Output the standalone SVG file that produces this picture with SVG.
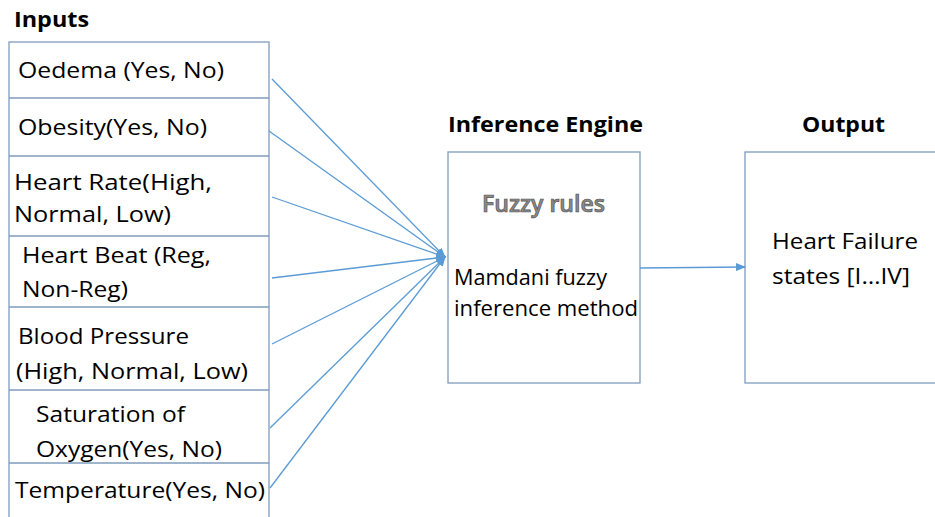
<svg xmlns="http://www.w3.org/2000/svg" width="935" height="517" viewBox="0 0 935 517">
<defs>
<marker id="ah" markerUnits="userSpaceOnUse" markerWidth="10" markerHeight="8" refX="9" refY="4" orient="auto">
<path d="M0,0 L10,4 L0,8 Z" fill="#5b9bd5"/>
</marker>
<style>
.box{fill:#ffffff;stroke:#7f9cbd;stroke-width:1.3}
.div{stroke:#7f9cbd;stroke-width:1.3}
.t{font-family:"Open Sans","Liberation Sans",sans-serif;font-size:22px;fill:#000000}
.h{font-family:"Open Sans","Liberation Sans",sans-serif;font-size:22px;font-weight:bold;fill:#000000}
.fz{font-family:"Open Sans","Liberation Sans",sans-serif;font-size:24px;font-weight:600;fill:#8a8a8a;stroke:#505050;stroke-width:0.7}
.c{stroke:#5b9bd5;stroke-width:1.3;fill:none;marker-end:url(#ah)}
</style>
</defs>
<rect width="935" height="517" fill="#ffffff"/>

<g id="inputs">
<text class="h" x="14" y="27" textLength="75" lengthAdjust="spacingAndGlyphs">Inputs</text>
<rect class="box" x="9" y="42" width="260" height="490"/>
<line class="div" x1="9" y1="98" x2="269" y2="98"/>
<line class="div" x1="9" y1="156" x2="269" y2="156"/>
<line class="div" x1="9" y1="236" x2="269" y2="236"/>
<line class="div" x1="9" y1="307" x2="269" y2="307"/>
<line class="div" x1="9" y1="390" x2="269" y2="390"/>
<line class="div" x1="9" y1="463" x2="269" y2="463"/>
</g>
<g id="oedema"><text class="t" x="18" y="78" textLength="206" lengthAdjust="spacingAndGlyphs">Oedema (Yes, No)</text></g>
<g id="obesity"><text class="t" x="18" y="135" textLength="189" lengthAdjust="spacingAndGlyphs">Obesity(Yes, No)</text></g>
<g id="heart-rate">
<text class="t" x="14" y="190" textLength="198" lengthAdjust="spacingAndGlyphs">Heart Rate(High,</text>
<text class="t" x="14" y="222" textLength="157" lengthAdjust="spacingAndGlyphs">Normal, Low)</text>
</g>
<g id="heart-beat">
<text class="t" x="22" y="263" textLength="189" lengthAdjust="spacingAndGlyphs">Heart Beat (Reg,</text>
<text class="t" x="22" y="297" textLength="106" lengthAdjust="spacingAndGlyphs">Non-Reg)</text>
</g>
<g id="blood-pressure">
<text class="t" x="18" y="344" textLength="171" lengthAdjust="spacingAndGlyphs">Blood Pressure</text>
<text class="t" x="16" y="379" textLength="232" lengthAdjust="spacingAndGlyphs">(High, Normal, Low)</text>
</g>
<g id="saturation">
<text class="t" x="36" y="422" textLength="149" lengthAdjust="spacingAndGlyphs">Saturation of</text>
<text class="t" x="36" y="457" textLength="186" lengthAdjust="spacingAndGlyphs">Oxygen(Yes, No)</text>
</g>
<g id="temperature"><text class="t" x="15" y="498" textLength="250" lengthAdjust="spacingAndGlyphs">Temperature(Yes, No)</text></g>

<g id="inference-engine">
<text class="h" x="448" y="132" textLength="195" lengthAdjust="spacingAndGlyphs">Inference Engine</text>
<rect class="box" x="448" y="152" width="192" height="231"/>
<text class="fz" x="482" y="212" textLength="123" lengthAdjust="spacingAndGlyphs">Fuzzy rules</text>
<text class="t" x="454" y="285" textLength="153" lengthAdjust="spacingAndGlyphs">Mamdani fuzzy</text>
<text class="t" x="454" y="316" textLength="184" lengthAdjust="spacingAndGlyphs">inference method</text>
</g>

<g id="output">
<text class="h" x="802" y="132" textLength="83" lengthAdjust="spacingAndGlyphs">Output</text>
<rect class="box" x="745" y="152" width="200" height="231"/>
<text class="t" x="772" y="249" textLength="146" lengthAdjust="spacingAndGlyphs">Heart Failure</text>
<text class="t" x="772" y="284" textLength="138" lengthAdjust="spacingAndGlyphs">states [I…IV]</text>
</g>

<g id="connectors">
<line class="c" x1="272" y1="79" x2="445" y2="257"/>
<line class="c" x1="269" y1="131" x2="445" y2="257"/>
<line class="c" x1="272" y1="197" x2="445" y2="257"/>
<line class="c" x1="272" y1="278" x2="445" y2="257"/>
<line class="c" x1="272" y1="344" x2="445" y2="257"/>
<line class="c" x1="270" y1="428" x2="445" y2="257"/>
<line class="c" x1="270" y1="488" x2="445" y2="257"/>
<line class="c" x1="640" y1="268" x2="745" y2="267"/>
</g>
</svg>
